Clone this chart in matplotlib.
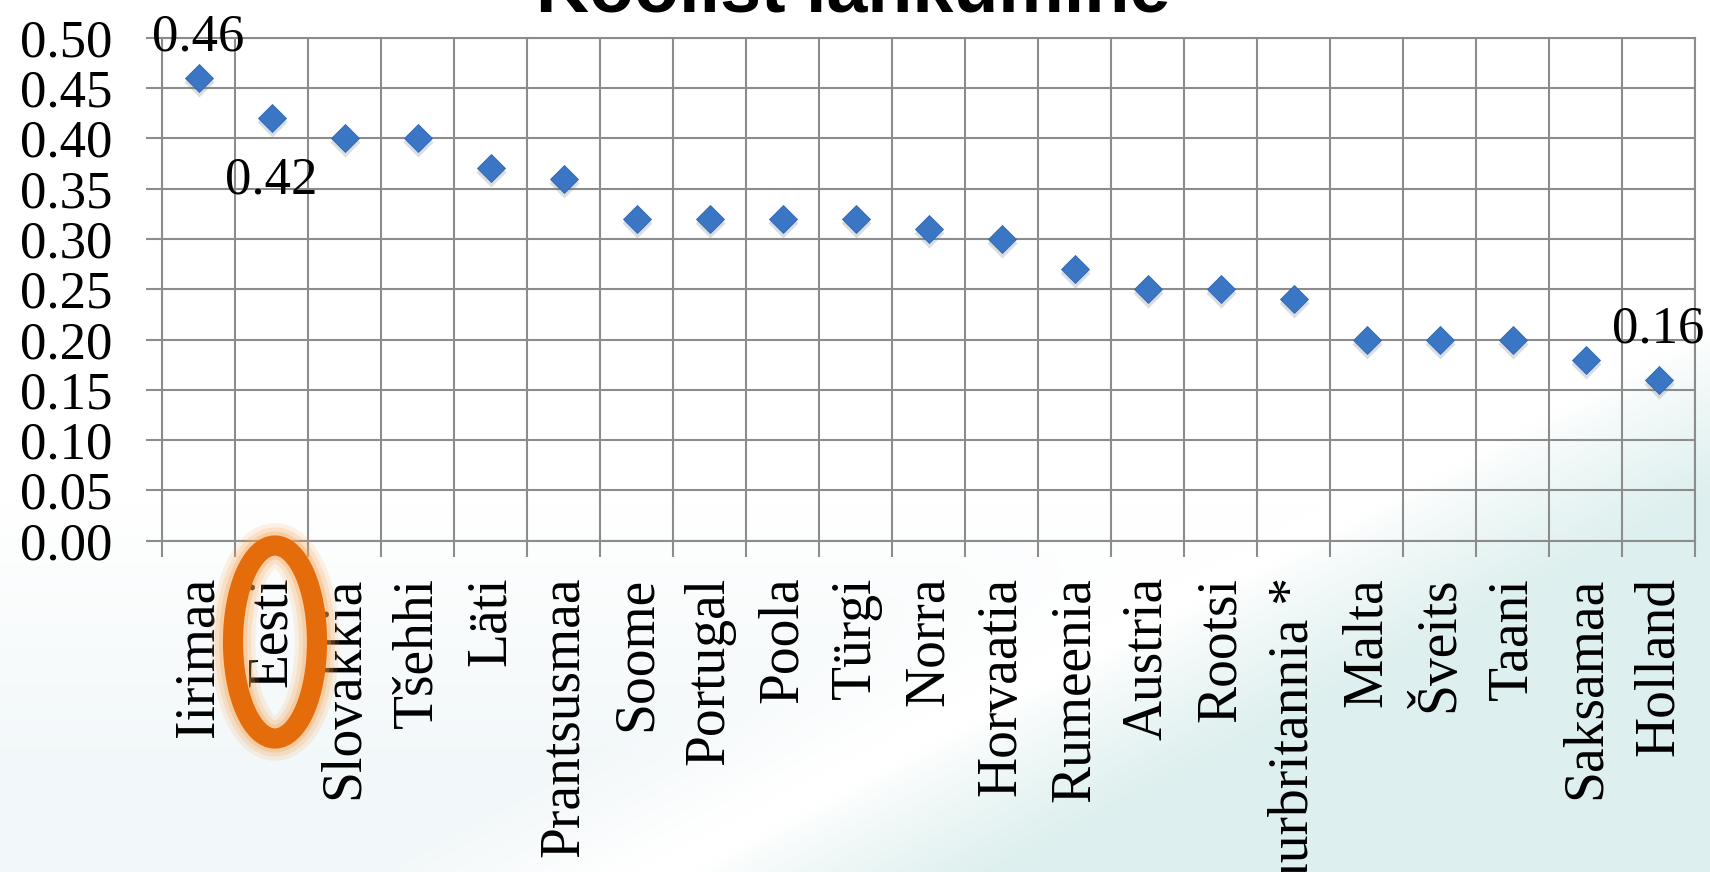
import numpy as np
import matplotlib
matplotlib.use('Agg')
import matplotlib.pyplot as plt
from matplotlib.patches import Ellipse
import matplotlib.transforms as mtransforms

# ---------------- data ----------------
countries = ['Iirimaa', 'Eesti', 'Slovakkia', 'Tšehhi', 'Läti', 'Prantsusmaa',
             'Soome', 'Portugal', 'Poola', 'Türgi', 'Norra', 'Horvaatia',
             'Rumeenia', 'Austria', 'Rootsi', 'Suurbritannia *', 'Malta',
             'Šveits', 'Taani', 'Saksamaa', 'Holland']
values = [0.46, 0.42, 0.40, 0.40, 0.37, 0.36, 0.32, 0.32, 0.32, 0.32, 0.31,
          0.30, 0.27, 0.25, 0.25, 0.24, 0.20, 0.20, 0.20, 0.18, 0.16]
yticks = [0.00, 0.05, 0.10, 0.15, 0.20, 0.25, 0.30, 0.35, 0.40, 0.45, 0.50]
ytick_labels = ['0.00', '0.05', '0.10', '0.15', '0.20', '0.25', '0.30',
                '0.35', '0.40', '0.45', '0.50']
labeled_idx = [0, 1, 20]
title_text = 'Koolist lahkumine'

W, H = 1710, 872
SERIF = ['Liberation Serif', 'DejaVu Serif']
GRID = '#8c8c8c'

fig = plt.figure(figsize=(W / 100, H / 100), dpi=100)
fig.patch.set_facecolor('white')

# ---------------- background ----------------
bg = fig.add_axes([0, 0, 1, 1], zorder=-10)
gh, gw = 218, 428
yy, xx = np.mgrid[0:gh, 0:gw]
px = xx * (W / gw)
py = yy * (H / gh)
d = ((px - 709) * 484 + (py - 872) * 911) / 1031.6
t = np.clip((d + 10) / 140.0, 0, 1) ** 0.8
white = np.array([1.0, 1.0, 1.0])
teal = np.array([0.870, 0.940, 0.935])
bluish = np.array([0.950, 0.972, 0.978])
low = np.clip((py - 500) / 260.0, 0, 1) * np.clip((-d - 40) / 120.0, 0, 1)
img = white[None, None, :] * (1 - t[..., None]) + teal[None, None, :] * t[..., None]
img = img * (1 - low[..., None]) + bluish[None, None, :] * low[..., None]
bg.imshow(img, extent=(0, 1, 0, 1), aspect='auto', origin='upper', interpolation='bilinear')
bg.set_xlim(0, 1)
bg.set_ylim(0, 1)
bg.axis('off')

# ---------------- main axes ----------------
ax = fig.add_axes([162 / W, 1 - 540.7 / H, 1533 / W, 503 / H])
ax.set_facecolor('none')
n = len(countries)
x = np.arange(n)
ax.set_xlim(-0.5, n - 0.5)
ax.set_ylim(0, 0.5)

ax.set_yticks(yticks)
ax.set_yticklabels(ytick_labels, fontsize=38, family=SERIF)
ax.tick_params(axis='y', length=11.8, width=1.5, color=GRID, pad=24)
ax.yaxis.grid(True, color=GRID, lw=1.5)

ax.set_xticks(x)
ax.set_xticklabels(countries, rotation=90, fontsize=40, family=SERIF)
ax.tick_params(axis='x', which='major', length=0, pad=26)
ax.set_xticks(np.arange(-0.5, n, 1), minor=True)
ax.tick_params(axis='x', which='minor', length=11.8, width=1.5, color=GRID)
ax.xaxis.grid(True, which='minor', color=GRID, lw=1.5)
ax.set_axisbelow(True)
for s in ax.spines.values():
    s.set_color(GRID)
    s.set_linewidth(1.5)

# marker shadow
shadow = mtransforms.offset_copy(ax.transData, fig=fig, x=0, y=-4, units='dots')
ax.plot(x, values, ls='none', marker='D', ms=15, color='#6f7c8c', alpha=0.25,
        mec='none', transform=shadow, zorder=4, clip_on=False)
# markers
ax.plot(x, values, ls='none', marker='D', ms=14.5, color='#3b76c4',
        mec='#2f66b0', mew=0.6, zorder=5, clip_on=False)

# data labels
offsets = {0: 20, 1: -54, 20: 26.5}
for i in labeled_idx:
    ax.annotate(f'{values[i]:.2f}', (x[i], values[i]), xytext=(0, offsets[i]),
                textcoords='offset points', ha='center', va='baseline',
                fontsize=38, family=SERIF, zorder=6, annotation_clip=False)

# ---------------- highlight ellipse around "Eesti" ----------------
cx, cy = 275 / W, 1 - 642 / H
ew, eh = 84 / W, 193 / H
for lw, a in [(32, 0.15), (26, 0.2), (20, 0.3)]:
    fig.add_artist(Ellipse((cx, cy), ew, eh, transform=fig.transFigure,
                           fill=False, ec='#f7a452', lw=lw, alpha=a, zorder=9))
fig.add_artist(Ellipse((cx, cy), ew, eh, transform=fig.transFigure,
                       fill=False, ec='#e46c0a', lw=14.5, zorder=10))

# ---------------- cropped title ----------------
fig.text(853 / W, 1 - 11 / H, title_text, ha='center', va='baseline',
         fontsize=53, weight='bold', family=['Liberation Sans', 'DejaVu Sans'])

fig.savefig('out.png', dpi=100, facecolor=fig.get_facecolor())
